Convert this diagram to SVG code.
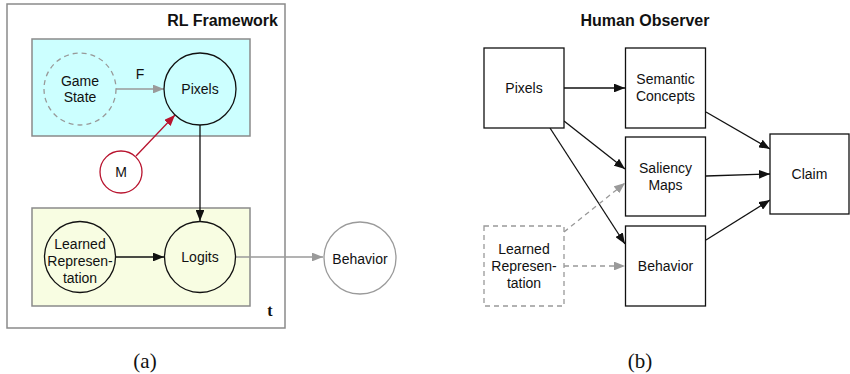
<svg xmlns="http://www.w3.org/2000/svg" width="850" height="374" viewBox="0 0 850 374">
<style>
.lbl{font-family:"Liberation Sans",Arial,sans-serif;font-size:14px;fill:#111;text-anchor:middle}
.ttl{font-family:"Liberation Sans",Arial,sans-serif;font-size:16px;font-weight:bold;fill:#111}
.cap{font-family:"Liberation Serif","Times New Roman",serif;font-size:21px;fill:#111;text-anchor:middle}
.blk{fill:none;stroke:#111;stroke-width:1.3}
.gry{fill:none;stroke:#9a9a9a;stroke-width:1.3}
.dsh{fill:none;stroke:#999;stroke-width:1.3;stroke-dasharray:5,4}
.frame{fill:none;stroke:#8a8a8a;stroke-width:1.5}
.node{fill:#fff;stroke:#111;stroke-width:1.3}
</style>
<defs>
<marker id="ab" viewBox="0 0 10 8" refX="10" refY="4" markerWidth="11" markerHeight="8.8" markerUnits="userSpaceOnUse" orient="auto"><path d="M0,0L10,4L0,8z" fill="#111"/></marker>
<marker id="ag" viewBox="0 0 10 8" refX="10" refY="4" markerWidth="11" markerHeight="8.8" markerUnits="userSpaceOnUse" orient="auto"><path d="M0,0L10,4L0,8z" fill="#9a9a9a"/></marker>
<marker id="ar" viewBox="0 0 10 8" refX="10" refY="4" markerWidth="11" markerHeight="8.8" markerUnits="userSpaceOnUse" orient="auto"><path d="M0,0L10,4L0,8z" fill="#b8132e"/></marker>
</defs>
<rect x="0" y="0" width="850" height="374" fill="#fff"/>

<!-- (a) plates -->
<g id="rl-framework">
<rect x="7" y="4" width="278" height="324" class="frame"/>
<text x="278" y="26" class="ttl" text-anchor="end">RL Framework</text>
</g>
<g id="plate-cyan"><rect x="32" y="39" width="218" height="97" fill="#ccffff" stroke="#8a8a8a" stroke-width="1.5"/></g>
<g id="plate-yellow">
<rect x="32" y="208" width="218" height="98" fill="#f8fde2" stroke="#8a8a8a" stroke-width="1.5"/>
<text x="270" y="316" font-family="Liberation Serif,Times New Roman,serif" font-size="16" font-weight="bold" fill="#111" text-anchor="middle">t</text>
</g>

<g id="connectors">
<line x1="116" y1="89" x2="164" y2="89" class="gry" marker-end="url(#ag)"/>
<text x="140" y="79" class="lbl">F</text>
<line x1="136" y1="156" x2="175" y2="115" fill="none" stroke="#b8132e" stroke-width="1.3" marker-end="url(#ar)"/>
<line x1="200" y1="125" x2="200" y2="221" class="blk" marker-end="url(#ab)"/>
<line x1="115" y1="257" x2="164" y2="257" class="blk" marker-end="url(#ab)"/>
<line x1="236" y1="257" x2="323" y2="257" class="gry" marker-end="url(#ag)"/>
<!-- (b) -->
<line x1="564" y1="88" x2="625" y2="88" class="blk" marker-end="url(#ab)"/>
<line x1="564" y1="121" x2="625" y2="169" class="blk" marker-end="url(#ab)"/>
<line x1="550" y1="128" x2="625" y2="244" class="blk" marker-end="url(#ab)"/>
<line x1="706" y1="112" x2="770" y2="149" class="blk" marker-end="url(#ab)"/>
<line x1="706" y1="176" x2="770" y2="174" class="blk" marker-end="url(#ab)"/>
<line x1="706" y1="240" x2="770" y2="200" class="blk" marker-end="url(#ab)"/>
<line x1="564" y1="232" x2="625" y2="183" class="dsh" marker-end="url(#ag)"/>
<line x1="564" y1="266" x2="625" y2="266" class="dsh" marker-end="url(#ag)"/>
</g>

<g id="a-game-state">
<circle cx="80" cy="89" r="36" fill="none" stroke="#999" stroke-width="1.3" stroke-dasharray="5,4"/>
<text x="80" y="86" class="lbl">Game</text><text x="80" y="102" class="lbl">State</text>
</g>
<g id="a-pixels">
<circle cx="200" cy="89" r="36" fill="none" stroke="#111" stroke-width="1.3"/>
<text x="200" y="94" class="lbl">Pixels</text>
</g>
<g id="a-m">
<circle cx="121" cy="172" r="21" fill="#fff" stroke="#b8132e" stroke-width="1.3"/>
<text x="121" y="177" class="lbl">M</text>
</g>
<g id="a-learned">
<circle cx="80" cy="257" r="35.5" fill="none" stroke="#111" stroke-width="1.3"/>
<text x="80" y="249" class="lbl">Learned</text><text x="80" y="266" class="lbl">Represen-</text><text x="80" y="282.5" class="lbl">tation</text>
</g>
<g id="a-logits">
<circle cx="200" cy="257" r="35.5" fill="none" stroke="#111" stroke-width="1.3"/>
<text x="200" y="262" class="lbl">Logits</text>
</g>
<g id="a-behavior">
<circle cx="360" cy="258" r="36" fill="#fff" stroke="#9a9a9a" stroke-width="1.3"/>
<text x="360" y="264" class="lbl">Behavior</text>
</g>
<text x="145" y="368" class="cap">(a)</text>

<!-- (b) -->
<text x="645" y="26" class="ttl" text-anchor="middle">Human Observer</text>
<g id="b-pixels"><rect x="484" y="48" width="80" height="80" class="node"/><text x="524" y="92.5" class="lbl">Pixels</text></g>
<g id="b-semantic"><rect x="625.5" y="48" width="80" height="80" class="node"/><text x="665.5" y="84" class="lbl">Semantic</text><text x="665.5" y="101" class="lbl">Concepts</text></g>
<g id="b-saliency"><rect x="625.5" y="137" width="80" height="79" class="node"/><text x="665.5" y="173" class="lbl">Saliency</text><text x="665.5" y="190" class="lbl">Maps</text></g>
<g id="b-behavior"><rect x="625.5" y="226" width="80" height="80" class="node"/><text x="665.5" y="271" class="lbl">Behavior</text></g>
<g id="b-claim"><rect x="770" y="134" width="79" height="80" class="node"/><text x="809.5" y="179" class="lbl">Claim</text></g>
<g id="b-learned"><rect x="484" y="226" width="80" height="80" fill="#fff" stroke="#999" stroke-width="1.3" stroke-dasharray="5,4"/><text x="524" y="254" class="lbl">Learned</text><text x="524" y="271" class="lbl">Represen-</text><text x="524" y="287.5" class="lbl">tation</text></g>
<text x="640" y="368" class="cap">(b)</text>
</svg>
